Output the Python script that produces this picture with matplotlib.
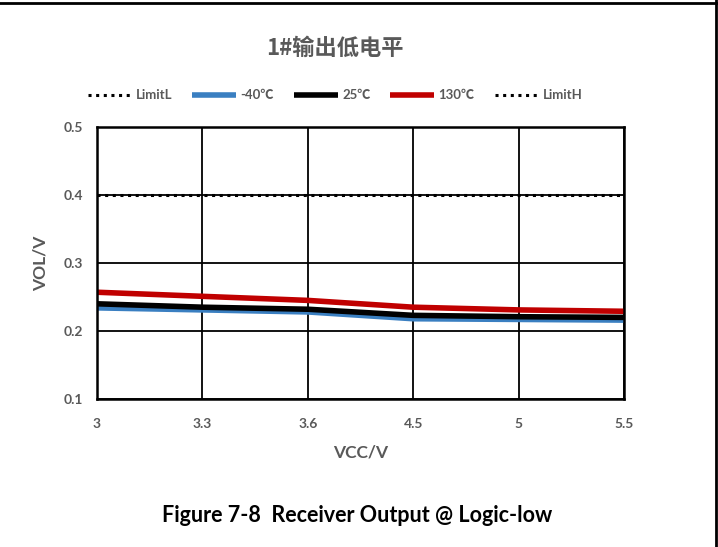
import matplotlib.pyplot as plt
from matplotlib.lines import Line2D

vcc_labels = ["3", "3.3", "3.6", "4.5", "5", "5.5"]
limit_low = [0.0, 0.0, 0.0, 0.0, 0.0, 0.0]
vol_m40 = [0.234, 0.231, 0.228, 0.218, 0.217, 0.216]
vol_25 = [0.240, 0.235, 0.232, 0.223, 0.221, 0.220]
vol_130 = [0.257, 0.251, 0.245, 0.235, 0.231, 0.229]
limit_high = [0.4, 0.4, 0.4, 0.4, 0.4, 0.4]

grey = "#595959"
plt.rcParams['font.family'] = ['Lato', 'Noto Sans CJK SC', 'DejaVu Sans']

fig = plt.figure(figsize=(7.18, 5.47), dpi=100)
ax = fig.add_axes([0.1351, 0.2706, 0.734, 0.4972])

x = list(range(len(vcc_labels)))
ax.plot(x, limit_low, linestyle=(0, (1, 1.5)), color="black", lw=2.2, label="LimitL")
ax.plot(x, vol_m40, color="#3a7fc1", lw=4, label="-40℃", solid_capstyle="butt")
ax.plot(x, vol_25, color="black", lw=4, label="25℃", solid_capstyle="butt")
ax.plot(x, vol_130, color="#c00000", lw=4, label="130℃", solid_capstyle="butt")
ax.plot(x, limit_high, linestyle=(0, (1, 1.5)), color="black", lw=2.2, label="LimitH")

ax.set_xlim(0, len(x) - 1)
ax.set_ylim(0.1, 0.5)
ax.set_yticks([0.1, 0.2, 0.3, 0.4, 0.5])
ax.set_yticklabels(["0.1", "0.2", "0.3", "0.4", "0.5"])
ax.set_xticks(x)
ax.set_xticklabels(vcc_labels)
ax.grid(True, color="black", lw=1.3)
ax.set_axisbelow(True)
for s in ax.spines.values():
    s.set_color("black")
    s.set_linewidth(1.8)
ax.tick_params(length=0, labelsize=10, labelcolor=grey)
ax.tick_params(axis="x", pad=14)
ax.tick_params(axis="y", pad=10)
for lab in ax.get_xticklabels() + ax.get_yticklabels():
    lab.set_fontweight("bold")

ax.set_xlabel("VCC/V", fontsize=12.5, fontweight="bold", color=grey, labelpad=10)
ax.set_ylabel("VOL/V", fontsize=12.5, fontweight="bold", color=grey, labelpad=11)

fig.text(0.467, 0.912, "1#输出低电平", fontsize=16, fontweight="bold", color=grey,
         ha="center", va="center", family=['Noto Sans CJK SC', 'DejaVu Sans'])

leg = fig.legend(loc="center", bbox_to_anchor=(0.467, 0.826), ncol=5, frameon=False,
                 fontsize=9.5, handlelength=3.3, columnspacing=1.5, handletextpad=0.35)
for t in leg.get_texts():
    t.set_color(grey)
    t.set_fontweight("bold")

fig.text(0.497, 0.058, "Figure 7-8  Receiver Output @ Logic-low", fontsize=15.5,
         fontweight="bold", color="black", ha="center", va="center")

fig.add_artist(Line2D([0, 1], [0.995, 0.995], color="black", lw=2, transform=fig.transFigure))
fig.add_artist(Line2D([0.997, 0.997], [0, 1], color="black", lw=2, transform=fig.transFigure))

fig.savefig("out.png", dpi=100)
